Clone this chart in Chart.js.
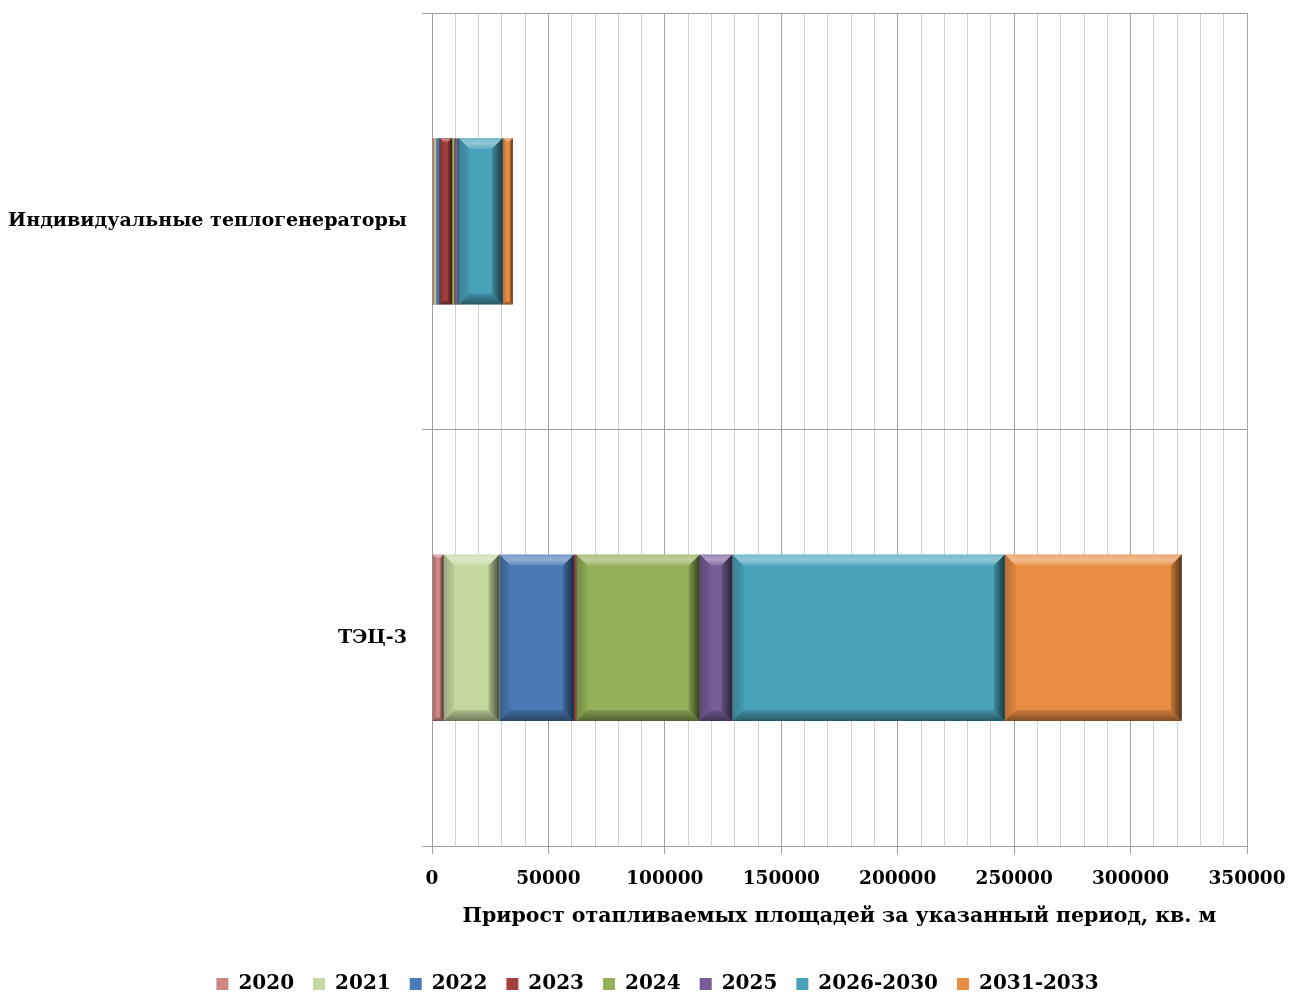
<!DOCTYPE html>
<html lang="ru">
<head>
<meta charset="utf-8">
<title>Прирост отапливаемых площадей</title>
<script src="https://cdn.jsdelivr.net/npm/chart.js@4/dist/chart.umd.min.js"></script>
<style>
  html, body { margin: 0; padding: 0; background: #fff; }
  #wrap { width: 1292px; height: 992px; position: relative; }
</style>
</head>
<body>
<div id="wrap"><canvas id="heatChart"></canvas></div>
<script>
// Heat sources (top to bottom) and the periods they are split into
const SOURCES = ["Индивидуальные теплогенераторы", "ТЭЦ-3"];
const PERIODS = ["2020", "2021", "2022", "2023", "2024", "2025", "2026-2030", "2031-2033"];

// Area growth per period, kv. m: [individual generators, TEC-3]
const AREA_2020 = [900, 5000];
const AREA_2021 = [1000, 24000];
const AREA_2022 = [1400, 32000];
const AREA_2023 = [5300, 1000];
const AREA_2024 = [1300, 53000];
const AREA_2025 = [1500, 14000];
const AREA_2026_2030 = [19000, 117000];
const AREA_2031_2033 = [4300, 76000];

const X_TICKS_MAX = 350000;

const SERIES = [AREA_2020, AREA_2021, AREA_2022, AREA_2023, AREA_2024, AREA_2025, AREA_2026_2030, AREA_2031_2033];

const COLORS = ["#cc8583", "#c4d8a0", "#4a7ab4", "#a03f3c", "#94b058", "#775e99", "#48a2b9", "#e98d43"];

const FONT = "'DejaVu Serif', 'Liberation Serif', serif";

// Raised-bevel look on every bar segment
const bevel = {
  id: "bevel",
  afterDatasetsDraw(chart) {
    const ctx = chart.ctx;
    chart.data.datasets.forEach((ds, i) => {
      const meta = chart.getDatasetMeta(i);
      if (meta.hidden) return;
      meta.data.forEach((bar) => {
        const p = bar.getProps(["x", "y", "base", "height"], true);
        const l = Math.min(p.x, p.base), r = Math.max(p.x, p.base);
        const t = p.y - p.height / 2, b = p.y + p.height / 2;
        const w = r - l;
        if (w <= 0.5) return;
        const d = Math.min(11, w / 3, p.height / 3);
        ctx.save();

        let g = ctx.createLinearGradient(0, t, 0, t + d);
        g.addColorStop(0, "rgba(255,255,255,0.25)");
        g.addColorStop(0.5, "rgba(255,255,255,0.40)");
        g.addColorStop(1, "rgba(255,255,255,0.10)");
        ctx.fillStyle = g;
        ctx.beginPath();
        ctx.moveTo(l, t); ctx.lineTo(r, t); ctx.lineTo(r - d, t + d); ctx.lineTo(l + d, t + d);
        ctx.closePath(); ctx.fill();

        g = ctx.createLinearGradient(0, b - d, 0, b);
        g.addColorStop(0, "rgba(0,0,0,0.12)");
        g.addColorStop(1, "rgba(0,0,0,0.45)");
        ctx.fillStyle = g;
        ctx.beginPath();
        ctx.moveTo(l, b); ctx.lineTo(r, b); ctx.lineTo(r - d, b - d); ctx.lineTo(l + d, b - d);
        ctx.closePath(); ctx.fill();

        g = ctx.createLinearGradient(r - d, 0, r, 0);
        g.addColorStop(0, "rgba(0,0,0,0.15)");
        g.addColorStop(1, "rgba(0,0,0,0.65)");
        ctx.fillStyle = g;
        ctx.beginPath();
        ctx.moveTo(r, t); ctx.lineTo(r, b); ctx.lineTo(r - d, b - d); ctx.lineTo(r - d, t + d);
        ctx.closePath(); ctx.fill();

        g = ctx.createLinearGradient(l, 0, l + d, 0);
        g.addColorStop(0, "rgba(0,0,0,0.22)");
        g.addColorStop(1, "rgba(0,0,0,0.05)");
        ctx.fillStyle = g;
        ctx.beginPath();
        ctx.moveTo(l, t); ctx.lineTo(l, b); ctx.lineTo(l + d, b - d); ctx.lineTo(l + d, t + d);
        ctx.closePath(); ctx.fill();

        ctx.restore();
      });
    });
  }
};

// Legend row sits a little right of the canvas centre
const legendShift = {
  id: "legendShift",
  afterLayout(chart) {
    if (chart.legend) {
      chart.legend.left += 34;
      chart.legend.right += 34;
    }
  }
};

const datasets = PERIODS.map((label, i) => ({
  label: label,
  data: SERIES[i],
  backgroundColor: COLORS[i],
  borderWidth: 0,
  barPercentage: 1.0,
  categoryPercentage: 0.4
}));

Chart.defaults.font.family = FONT;
Chart.defaults.font.weight = "bold";
Chart.defaults.font.size = 20;
Chart.defaults.color = "#000";

new Chart(document.getElementById("heatChart").getContext("2d"), {
  type: "bar",
  data: { labels: SOURCES, datasets: datasets },
  plugins: [bevel, legendShift],
  options: {
    indexAxis: "y",
    responsive: true,
    maintainAspectRatio: false,
    animation: false,
    layout: { padding: { top: 13, right: 45, bottom: -12, left: 0 } },
    plugins: {
      tooltip: { enabled: false },
      legend: {
        position: "bottom",
        labels: {
          boxWidth: 12,
          boxHeight: 12,
          padding: 19,
          font: { family: FONT, size: 20, weight: "bold" },
          color: "#000"
        }
      }
    },
    scales: {
      x: {
        stacked: true,
        min: 0,
        max: X_TICKS_MAX,
        afterFit: (s) => { s.height = 109; s.paddingLeft = 0; s.paddingRight = 0; },
        border: { color: "#a0a0a0", width: 1 },
        grid: {
          color: (c) => (c.tick && c.tick.value % 50000 === 0 ? "#a3a3a3" : "#d2d2d2"),
          tickColor: (c) => (c.tick && c.tick.value % 50000 === 0 ? "#a0a0a0" : "rgba(0,0,0,0)"),
          tickLength: 8
        },
        ticks: {
          stepSize: 10000,
          autoSkip: false,
          maxRotation: 0,
          padding: 14,
          font: { family: FONT, size: 18.5, weight: "bold" },
          callback: (v) => (v % 50000 === 0 ? String(v) : "")
        },
        title: {
          display: true,
          text: "Прирост отапливаемых площадей за указанный период, кв. м",
          font: { family: FONT, size: 20.5, weight: "bold" },
          padding: { top: 0, bottom: 26 }
        }
      },
      y: {
        stacked: true,
        afterFit: (s) => { s.width = 432; s.paddingTop = 0; s.paddingBottom = 0; },
        border: { color: "#a0a0a0", width: 1 },
        grid: { color: "#a0a0a0", tickLength: 10, offset: true },
        ticks: {
          padding: 15,
          font: { family: FONT, size: 19.1, weight: "bold" }
        }
      }
    }
  }
});
</script>
</body>
</html>
